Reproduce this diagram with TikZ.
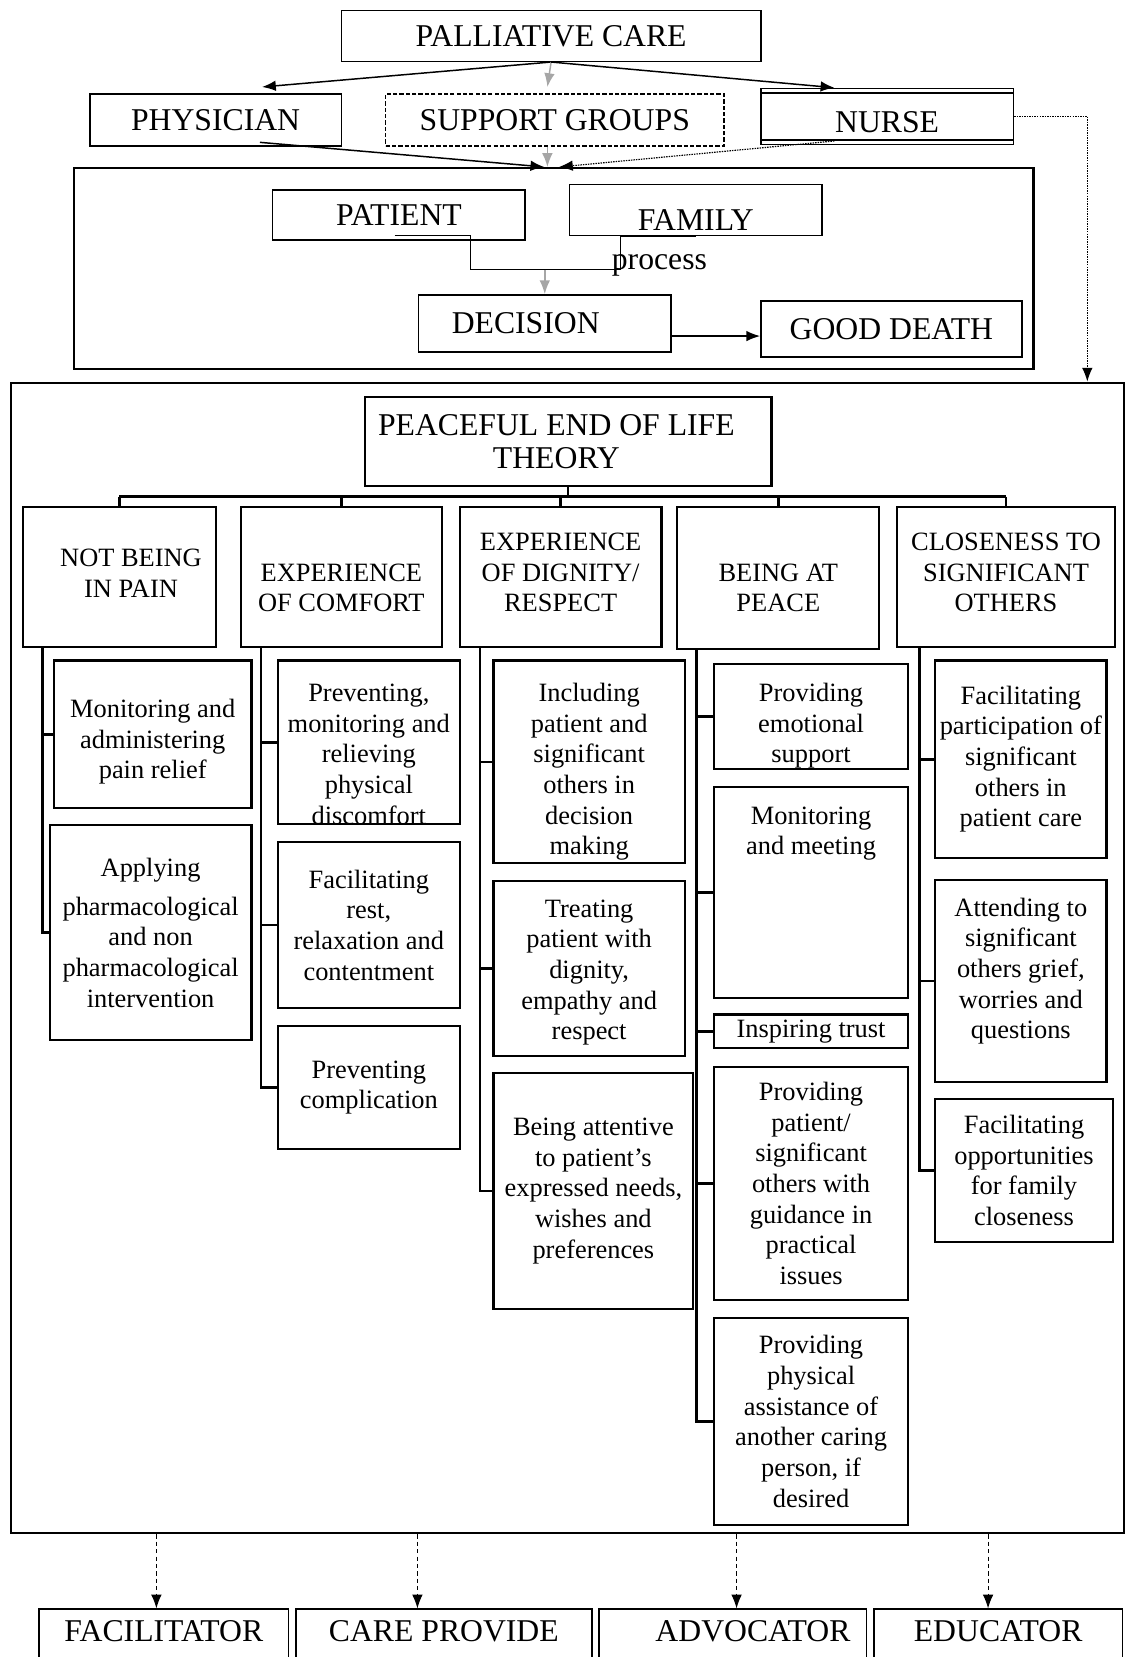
\documentclass[tikz,border=0pt]{standalone}
\usepackage{fontspec}
\setmainfont{Liberation Serif}
\usepackage{tikz}
\usetikzlibrary{arrows.meta}

\newcommand{\headfont}{\fontsize{30}{31}\selectfont}
\newcommand{\itemfont}{\fontsize{25}{29}\selectfont}

\begin{document}
\begin{tikzpicture}[x=1pt,y=-1pt,
    box/.style={draw,line width=1.4pt,inner sep=1pt,align=center},
    head/.style={box,font=\headfont},
    item/.style={box,line width=2pt,font=\itemfont},
    toptext/.style={anchor=north,inner ysep=0pt},
    tree/.style={line width=2.4pt},
    arr/.style={-{Latex[length=13pt,width=10pt]},line width=1.4pt},
    greyarr/.style={arr,draw=gray!70},
    dotarr/.style={arr,densely dotted,line width=1.1pt},
    dasharr/.style={arr,dash pattern=on 4pt off 3pt,line width=1pt}]
    \useasboundingbox (0,0) rectangle (1067,1568);
    \clip (0,0) rectangle (1067,1568);

    % who gives the care
    \node[head,minimum width=397,minimum height=48] (palliative) at (521.5,34) {PALLIATIVE CARE};
    \node[head,minimum width=238,minimum height=49] (physician) at (204,113.5) {PHYSICIAN};
    \node[head,dash pattern=on 4pt off 2pt,minimum width=320,minimum height=49] (support) at (525,113.5) {SUPPORT GROUPS};
    \node[head,toptext,text height=42pt,text depth=11pt,minimum width=239] (nurse) at (839.5,83) {NURSE};
    \draw[line width=1.4pt] ([yshift=-5pt]nurse.north west) -- ([yshift=-5pt]nurse.north east)
        ([yshift=5pt]nurse.south west) -- ([yshift=5pt]nurse.south east);

    \draw[arr] (palliative.south) -- ([xshift=44pt,yshift=6pt]physician.north);
    \draw[greyarr] (palliative.south) -- ([xshift=-7pt,yshift=6pt]support.north);
    \draw[arr] (palliative.south) -- ([xshift=-50pt]nurse.north);

    % decision making
    \node[box,line width=2pt,minimum width=908,minimum height=190] (care) at (524,254) {};
    \node[head,minimum width=239,minimum height=47] (patient) at (377.5,203.5) {PATIENT};
    \node[head,toptext,text height=43pt,text depth=5pt,minimum width=239] (family) at (658.5,174) {FAMILY};
    \node[head,minimum width=239,minimum height=54] (decision) at (515.5,306) {DECISION\hspace*{36pt}};
    \node[head,minimum width=247,minimum height=53] (death) at (843.5,311.5) {GOOD DEATH};
    \node[font=\headfont,anchor=base] (process) at (624,255) {process};

    \draw[arr] ([xshift=42pt,yshift=4pt]physician.south) -- ([xshift=-9pt]care.north);
    \draw[greyarr] ([xshift=-7pt]support.south) -- ([xshift=-6pt]care.north);
    \draw[dotarr] ([xshift=-50pt,yshift=4pt]nurse.south) -- ([xshift=5pt]care.north);

    \coordinate (join) at ([yshift=23pt]decision.north);
    \draw[line width=1pt] ([xshift=-4pt,yshift=5pt]patient.south) -- ++(72,0) |- (join);
    \draw[line width=1pt] (family.south) -- ++(-71,0) |- (join);
    \draw[greyarr] (join) -- (decision.north);
    \coordinate (dout) at ([yshift=-12pt]decision.east);
    \draw[arr] (dout) -- (dout -| death.west);

    % the theory
    \node[box,line width=1.8pt,minimum width=1054,minimum height=1089] (frame) at (537,906.5) {};
    \draw[dotarr] (nurse.east) -| ([xshift=-36pt]frame.north east);
    \node[head,line width=2pt,minimum width=385,minimum height=84] (theory) at (537.5,418) {PEACEFUL END OF LIFE\hspace*{22pt}\\THEORY\hspace*{22pt}};

    \node[item,toptext,text height=85pt,text depth=47pt,minimum width=182] (pain) at (113,479) {\hspace*{22pt}NOT BEING\\\hspace*{22pt}IN PAIN};
    \node[item,toptext,text height=99pt,text depth=33pt,minimum width=190] (comfort) at (323,479) {EXPERIENCE\\OF COMFORT};
    \node[item,toptext,text height=99pt,text depth=33pt,minimum width=191] (dignity) at (530.5,479) {EXPERIENCE\\OF DIGNITY/\\RESPECT};
    \node[item,toptext,text height=99pt,text depth=35pt,minimum width=191] (peace) at (736.5,479) {BEING AT\\PEACE};
    \node[item,toptext,text height=99pt,text depth=33pt,minimum width=206] (close) at (952,479) {CLOSENESS TO\\SIGNIFICANT\\OTHERS};

    \draw[tree] (theory.south) -- ++(0,9) coordinate (bar);
    \draw[tree] (bar -| pain.north) -- (bar -| close.north);
    \foreach \n in {pain,comfort,dignity,peace,close}
        \draw[tree] (bar -| \n.north) -- (\n.north);

    % not being in pain
    \node[item,toptext,text height=112pt,text depth=28pt,minimum width=187] (p1) at (144.5,624) {Monitoring and\\administering\\pain relief};
    \node[item,minimum width=191,minimum height=203] (p2) at (142.5,882.5) {Applying\\[8pt]pharmacological\\and non\\pharmacological\\intervention};

    % comfort
    \node[item,toptext,text height=155pt,text depth=0pt,minimum width=172] (c1) at (349,624) {Preventing,\\monitoring and\\relieving\\physical\\discomfort};
    \node[item,minimum width=172,minimum height=157] (c2) at (349,875.5) {Facilitating\\rest,\\relaxation and\\contentment};
    \node[item,minimum width=172,minimum height=116] (c3) at (349,1029) {Preventing\\complication};

    % dignity
    \node[item,toptext,text height=184pt,text depth=8pt,minimum width=181] (d1) at (557.5,624) {Including\\patient and\\significant\\others in\\decision\\making};
    \node[item,toptext,text height=150pt,text depth=15pt,minimum width=181] (d2) at (557.5,833) {Treating\\patient with\\dignity,\\empathy and\\respect};
    \node[item,minimum width=189,minimum height=224] (d3) at (561.5,1127) {Being attentive\\to patient's\\expressed needs,\\wishes and\\preferences};

    % peace
    \node[item,toptext,text height=94pt,text depth=6pt,minimum width=183] (e1) at (767.5,627) {Providing\\emotional\\support};
    \node[item,toptext,text height=64pt,text depth=135pt,minimum width=183] (e2) at (767.5,744) {Monitoring\\and meeting};
    \node[item,minimum width=183,minimum height=32] (e3) at (767.5,976) {Inspiring trust};
    \node[item,minimum width=183,minimum height=220] (e4) at (767.5,1120) {Providing\\patient/\\significant\\others with\\guidance in\\practical\\issues};
    \node[item,minimum width=183,minimum height=196] (e5) at (767.5,1345) {Providing\\physical\\assistance of\\another caring\\person, if\\desired};

    % closeness
    \node[item,minimum width=162,minimum height=187] (f1) at (966,718.5) {Facilitating\\participation of\\significant\\others in\\patient care};
    \node[item,toptext,text height=150pt,text depth=41pt,minimum width=162] (f2) at (966,832) {Attending to\\significant\\others grief,\\worries and\\questions};
    \node[item,minimum width=168,minimum height=135] (f3) at (969,1107.5) {Facilitating\\opportunities\\for family\\closeness};

    \coordinate (s1) at ([xshift=19pt]pain.south west);
    \coordinate (s2) at ([xshift=20pt]comfort.south west);
    \coordinate (s3) at ([xshift=20pt]dignity.south west);
    \coordinate (s4) at ([xshift=19pt]peace.south west);
    \coordinate (s5) at ([xshift=22pt]close.south west);
    \foreach \s/\b in {s1/p1,s1/p2,s2/c1,s2/c2,s2/c3,s3/d1,s3/d2,s3/d3,
        s4/e1,s4/e2,s4/e3,s4/e4,s4/e5,s5/f1,s5/f2,s5/f3}
        \draw[tree] (\s) |- (\b.west);

    % nursing roles
    \node[head,toptext,text height=31pt,text depth=30pt,minimum width=236] (facil) at (155,1522) {FACILITATOR};
    \node[head,toptext,text height=31pt,text depth=30pt,minimum width=280] (provide) at (420,1522) {CARE PROVIDE};
    \node[head,toptext,text height=31pt,text depth=30pt,minimum width=253] (advoc) at (693.5,1522) {\hspace*{38pt}ADVOCATOR};
    \node[head,toptext,text height=31pt,text depth=30pt,minimum width=235] (educ) at (944.5,1522) {EDUCATOR};

    \foreach \x/\b in {148/facil,395/provide,697/advoc,935/educ}
        \draw[dasharr] (frame.south -| \x,0) -- (\b.north -| \x,0);
\end{tikzpicture}
\end{document}
